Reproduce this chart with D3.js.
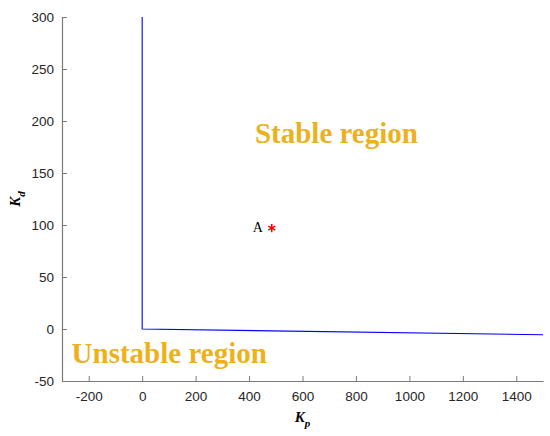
<!DOCTYPE html>
<html>
<head>
<meta charset="utf-8">
<script src="https://cdn.jsdelivr.net/npm/d3@7"></script>
<style>
  html, body { margin: 0; padding: 0; background: #fff; }
  svg { display: block; }
</style>
</head>
<body>
<div id="chart"></div>
<script>
// Stability boundary (Kp, Kd)
const boundaryKp = [0, 0, 1500];
const boundaryKd = [300, 0, -5.5];
// Operating point A
const pointA = { kp: 485, kd: 97, label: "A" };
// Tick values
const xTicks = [-200, 0, 200, 400, 600, 800, 1000, 1200, 1400];
const yTicks = [-50, 0, 50, 100, 150, 200, 250, 300];
const xDomain = [-300, 1500];
const yDomain = [-50, 300];
// Region annotations
const regionLabels = [
  { text: "Stable region", kp: 422, kd: 179 },
  { text: "Unstable region", kp: -264, kd: -33 }
];

const W = 550, H = 436;
const margin = { left: 62, right: 7, top: 17, bottom: 55 };

const svg = d3.select("#chart").append("svg")
  .attr("width", W).attr("height", H);

const x = d3.scaleLinear().domain(xDomain).range([margin.left, W - margin.right]);
const y = d3.scaleLinear().domain(yDomain).range([H - margin.bottom, margin.top]);

const axisColor = "#7a7a7a";
const textColor = "#262626";
const fmt = d => String(d);

// Boundary line
const pts = boundaryKp.map((kp, i) => [kp, boundaryKd[i]]);
svg.append("path")
  .datum(pts)
  .attr("d", d3.line().x(d => x(d[0])).y(d => y(d[1])))
  .attr("fill", "none")
  .attr("stroke", "#0000ff")
  .attr("stroke-width", 1.1);

// Axes
const xAxis = svg.append("g")
  .attr("transform", `translate(0,${y(yDomain[0])})`)
  .call(d3.axisBottom(x).tickValues(xTicks).tickFormat(fmt).tickSizeInner(-5).tickSizeOuter(0).tickPadding(10));
const yAxis = svg.append("g")
  .attr("transform", `translate(${x(xDomain[0])},0)`)
  .call(d3.axisLeft(y).tickValues(yTicks).tickFormat(fmt).tickSizeInner(-5).tickSizeOuter(0).tickPadding(8));

[xAxis, yAxis].forEach(g => {
  g.select(".domain").attr("stroke", axisColor).attr("stroke-width", 1.2);
  g.selectAll(".tick line").attr("stroke", axisColor);
  g.selectAll(".tick text")
    .attr("fill", textColor)
    .style("font-family", "'Liberation Sans', Arial, Helvetica, sans-serif")
    .style("font-size", "13.5px");
});

// Axis labels
const serif = "'Liberation Serif', 'Times New Roman', serif";
const xl = svg.append("text")
  .attr("x", (x.range()[0] + x.range()[1]) / 2)
  .attr("y", 422)
  .attr("text-anchor", "middle")
  .style("font-family", serif)
  .style("font-weight", "bold")
  .style("font-style", "italic")
  .style("font-size", "15px")
  .attr("fill", "#000");
xl.append("tspan").text("K");
xl.append("tspan").attr("dy", 5).style("font-size", "11px").text("p");

const yl = svg.append("text")
  .attr("transform", `translate(20,${(y.range()[0] + y.range()[1]) / 2}) rotate(-90)`)
  .attr("text-anchor", "middle")
  .style("font-family", serif)
  .style("font-weight", "bold")
  .style("font-style", "italic")
  .style("font-size", "15px")
  .attr("fill", "#000");
yl.append("tspan").text("K");
yl.append("tspan").attr("dy", 5).style("font-size", "11px").text("d");

// Region labels
svg.selectAll("text.region")
  .data(regionLabels)
  .enter().append("text")
  .attr("class", "region")
  .attr("x", d => x(d.kp))
  .attr("y", d => y(d.kd))
  .attr("text-anchor", "start")
  .style("font-family", serif)
  .style("font-weight", "bold")
  .style("font-size", "29px")
  .attr("fill", "#EDB120")
  .text(d => d.text);

// Point A
svg.append("path")
  .attr("d", d3.symbol().type(d3.symbolAsterisk).size(45)())
  .attr("transform", `translate(${x(pointA.kp)},${y(pointA.kd)})`)
  .attr("fill", "none")
  .attr("stroke", "#ff0000")
  .attr("stroke-width", 1.5);
svg.append("text")
  .attr("x", x(pointA.kp) - 9)
  .attr("y", y(pointA.kd) + 3.5)
  .attr("text-anchor", "end")
  .style("font-family", serif)
  .style("font-size", "14px")
  .attr("fill", "#000")
  .text(pointA.label);
</script>
</body>
</html>
